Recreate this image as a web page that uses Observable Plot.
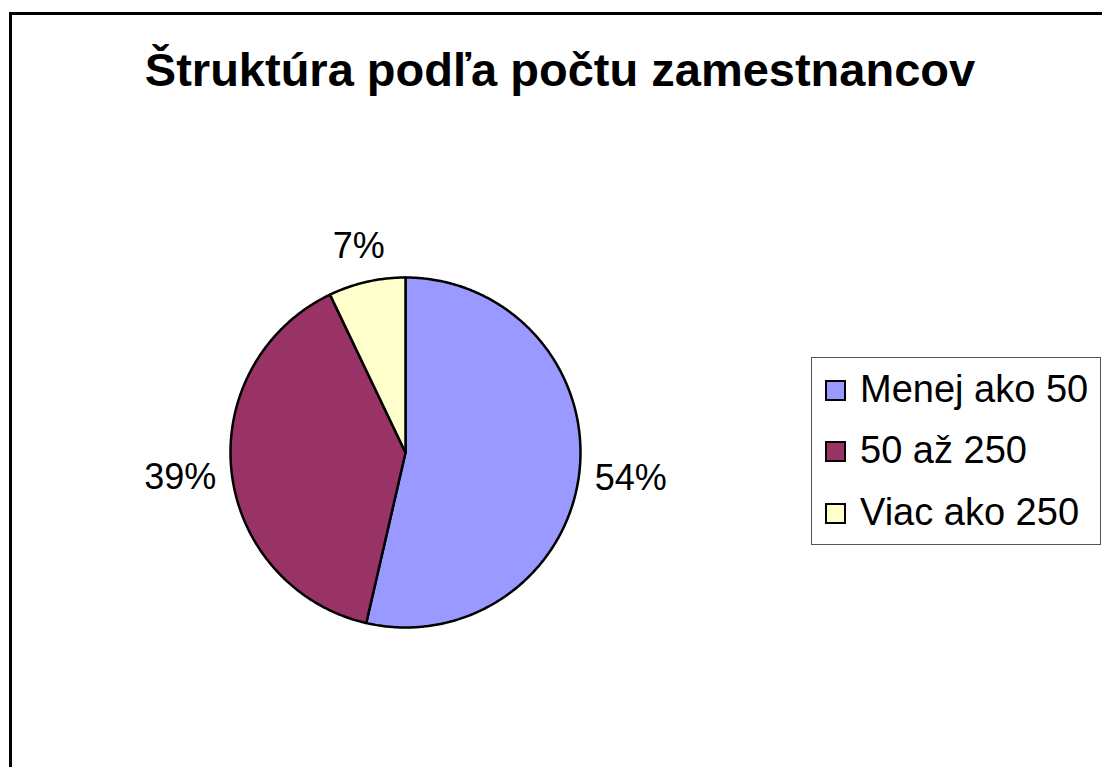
<!DOCTYPE html>
<html>
<head>
<meta charset="utf-8">
<script src="https://cdn.jsdelivr.net/npm/d3@7"></script>
<script src="https://cdn.jsdelivr.net/npm/@observablehq/plot@0.6"></script>
<style>
  html, body { margin: 0; padding: 0; background: #fff; }
  #wrap { position: relative; width: 1102px; height: 767px; overflow: hidden; background: #fff;
          font-family: "Liberation Sans", Arial, sans-serif; }
  #frame { position: absolute; left: 9px; top: 12px; width: 1200px; height: 900px;
           border: 3px solid #000; box-sizing: border-box; }
  #title { position: absolute; left: 560px; top: 46px; transform: translateX(-50%);
           white-space: nowrap; font-weight: bold; font-size: 47px; line-height: 47px; color: #000; }
  #chart { position: absolute; left: 0; top: 0; }
  #legendBox { position: absolute; left: 811px; top: 357px; width: 290px; height: 188px;
               border: 1.5px solid #555; box-sizing: border-box; }
  .sw { position: absolute; left: 825px; width: 21px; height: 21px; border: 2px solid #000; box-sizing: border-box; }
  .lt { position: absolute; left: 860px; font-size: 38px; line-height: 38px; white-space: nowrap; color: #000; }
</style>
</head>
<body>
<div id="wrap">
  <div id="frame"></div>
  <div id="title">Štruktúra podľa počtu zamestnancov</div>
  <div id="chart"></div>
  <div id="legendBox"></div>
</div>
<script>
const categories = ["Menej ako 50", "50 až 250", "Viac ako 250"];
const values = [53.6, 39.3, 7.1];
const colors = ["#9999FF", "#993366", "#FFFFCC"];
const titleText = "Štruktúra podľa počtu zamestnancov";

const total = d3.sum(values);
const R = 175; // pie radius in px (x/y unit = radius)
const labelFont = 36;

// slice outlines built from the values
const points = [];
const labels = [];
let cum = 0;
values.forEach((v, i) => {
  const a0 = cum / total * 2 * Math.PI;
  cum += v;
  const a1 = cum / total * 2 * Math.PI;
  const n = Math.max(4, Math.ceil((a1 - a0) / (Math.PI / 360)));
  points.push({name: categories[i], x: 0, y: 0});
  for (let k = 0; k <= n; k++) {
    const t = a0 + (a1 - a0) * k / n;
    points.push({name: categories[i], x: Math.sin(t), y: Math.cos(t)});
  }
  points.push({name: categories[i], x: 0, y: 0});
  const label = Math.round(v / total * 100) + "%";
  const m = (a0 + a1) / 2;
  const wEm = (label.length - 1) * 0.556 + 0.889;
  const halfW = wEm * labelFont / 2, halfH = 17;
  const dist = R + 14 + halfW * Math.abs(Math.sin(m)) + halfH * Math.abs(Math.cos(m));
  labels.push({label, x: dist / R * Math.sin(m), y: dist / R * Math.cos(m)});
});

const plot = Plot.plot({
  width: 1102,
  height: 767,
  x: {domain: [-1, 1], range: [405 - R, 405 + R], axis: null},
  y: {domain: [-1, 1], range: [452 + R, 452 - R], axis: null},
  color: {domain: categories, range: colors},
  style: {fontFamily: '"Liberation Sans", Arial, sans-serif', background: "transparent", overflow: "visible"},
  marks: [
    Plot.line(points, {x: "x", y: "y", z: "name", fill: "name", stroke: "#000", strokeWidth: 2.5, strokeLinejoin: "round", curve: "linear"}),
    Plot.text(labels, {x: "x", y: "y", text: "label", fontSize: labelFont, fill: "#000", textAnchor: "middle", lineAnchor: "middle"})
  ]
});
document.getElementById("chart").appendChild(plot);

document.getElementById("title").textContent = titleText;

// legend
const wrap = document.getElementById("wrap");
const baselines = [402, 463, 525];
categories.forEach((c, i) => {
  const sw = document.createElement("div");
  sw.className = "sw";
  sw.style.top = (baselines[i] - 22) + "px";
  sw.style.background = colors[i];
  wrap.appendChild(sw);
  const t = document.createElement("div");
  t.className = "lt";
  t.style.top = (baselines[i] - 32.2) + "px";
  t.textContent = c;
  wrap.appendChild(t);
});
</script>
</body>
</html>
